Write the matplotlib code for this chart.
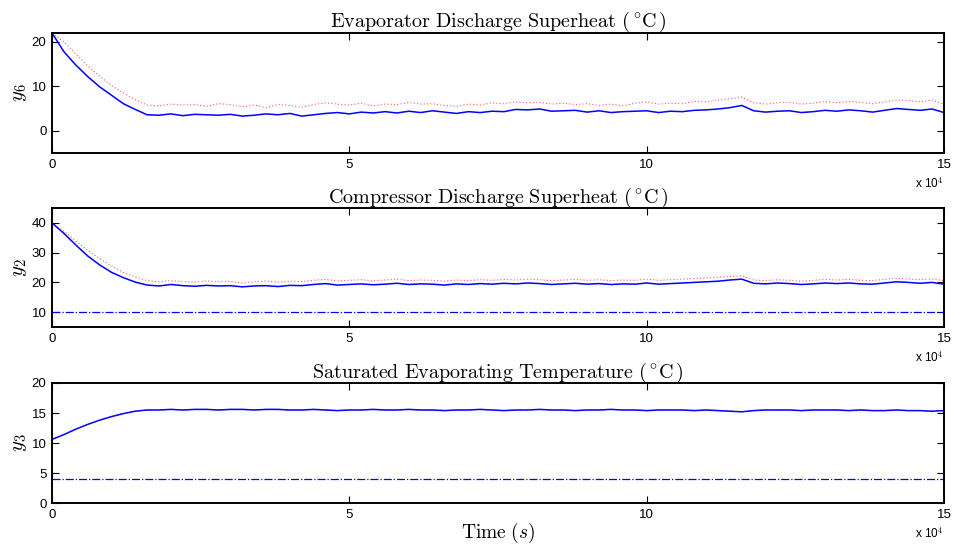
import matplotlib
matplotlib.use('Agg')
import matplotlib.pyplot as plt
import numpy as np

# time grid (s), step 2000 s
t = np.arange(0, 150001, 2000)

# y6 - evaporator discharge superheat
y6_est = [22.0, 17.8, 14.8, 12.2, 9.9, 8.0, 6.1, 4.8, 3.6, 3.5,
          3.8, 3.4, 3.7, 3.6, 3.5, 3.7, 3.3, 3.5, 3.8, 3.6,
          3.9, 3.3, 3.6, 3.9, 4.1, 3.8, 4.2, 4.0, 4.3, 4.0,
          4.4, 4.1, 4.5, 4.2, 3.9, 4.3, 4.1, 4.4, 4.3, 4.8,
          4.7, 4.9, 4.4, 4.5, 4.6, 4.2, 4.5, 4.1, 4.3, 4.4,
          4.5, 4.1, 4.4, 4.3, 4.6, 4.7, 4.9, 5.2, 5.7, 4.5,
          4.2, 4.4, 4.5, 4.1, 4.3, 4.6, 4.4, 4.7, 4.5, 4.2,
          4.6, 5.0, 4.8, 4.6, 4.9, 4.1]
y6_true = [22.0, 20.0, 17.3, 14.6, 12.3, 10.2, 8.5, 7.0, 5.8, 5.6,
           6.0, 5.8, 5.9, 5.5, 6.1, 5.9, 5.4, 5.8, 5.2, 5.9,
           5.7, 5.3, 5.9, 6.3, 6.0, 5.8, 6.2, 5.6, 6.0, 5.9,
           6.4, 6.0, 6.1, 5.7, 5.5, 6.0, 5.8, 6.3, 6.1, 6.5,
           6.3, 6.4, 6.0, 6.2, 5.9, 6.1, 5.7, 6.0, 5.6, 6.2,
           6.5, 6.0, 6.2, 6.1, 6.6, 6.5, 6.9, 7.2, 7.6, 6.3,
           6.0, 6.3, 6.4, 6.0, 6.2, 6.6, 6.3, 6.6, 6.4, 6.1,
           6.5, 6.9, 6.8, 6.5, 6.9, 6.0]

# y2 - compressor discharge superheat
y2_est = [40.0, 36.5, 32.6, 28.9, 25.9, 23.4, 21.6, 20.1, 19.1, 18.8,
          19.3, 18.9, 18.7, 19.0, 18.8, 18.9, 18.5, 18.8, 18.9, 18.6,
          19.0, 18.9, 19.3, 19.6, 19.1, 19.3, 19.5, 19.2, 19.4, 19.7,
          19.3, 19.5, 19.4, 19.1, 19.5, 19.3, 19.6, 19.4, 19.7, 19.5,
          19.8, 19.6, 19.3, 19.5, 19.7, 19.4, 19.6, 19.3, 19.5, 19.4,
          19.8, 19.4, 19.6, 19.8, 20.0, 20.2, 20.4, 20.8, 21.1, 19.7,
          19.5, 19.8, 19.6, 19.3, 19.5, 19.8, 19.6, 19.8, 19.5, 19.4,
          19.8, 20.2, 20.0, 19.7, 20.0, 19.4]
y2_true = [40.0, 37.2, 33.9, 30.8, 28.0, 25.6, 23.4, 21.8, 20.6, 20.2,
           20.6, 20.3, 20.1, 20.5, 20.2, 20.4, 19.8, 20.2, 20.5, 20.0,
           20.4, 20.3, 20.7, 21.0, 20.5, 20.7, 20.9, 20.5, 20.8, 21.1,
           20.6, 20.8, 20.7, 20.4, 20.8, 20.6, 20.9, 20.7, 21.0, 20.8,
           21.1, 20.9, 20.6, 20.8, 21.0, 20.7, 20.9, 20.6, 20.8, 20.7,
           21.1, 20.7, 20.9, 21.1, 21.3, 21.5, 21.7, 22.0, 22.2, 20.8,
           20.6, 20.9, 20.7, 20.4, 20.7, 21.0, 20.8, 21.0, 20.7, 20.6,
           21.0, 21.4, 21.2, 20.9, 21.2, 20.6]

# y3 - saturated evaporating temperature
y3_est = [10.6, 11.4, 12.3, 13.1, 13.8, 14.4, 14.9, 15.3, 15.5, 15.5,
          15.6, 15.5, 15.6, 15.6, 15.5, 15.6, 15.6, 15.5, 15.6, 15.6,
          15.5, 15.5, 15.6, 15.5, 15.4, 15.5, 15.5, 15.6, 15.5, 15.5,
          15.6, 15.5, 15.5, 15.4, 15.5, 15.5, 15.6, 15.5, 15.4, 15.5,
          15.5, 15.6, 15.5, 15.5, 15.4, 15.5, 15.5, 15.6, 15.5, 15.5,
          15.4, 15.5, 15.5, 15.5, 15.4, 15.5, 15.4, 15.3, 15.2, 15.4,
          15.5, 15.5, 15.5, 15.4, 15.5, 15.5, 15.5, 15.4, 15.5, 15.4,
          15.4, 15.5, 15.4, 15.4, 15.3, 15.4]
y3_true = y3_est

# constraint levels
y2_min = 10
y3_min = 4

titles = [r'$\mathrm{Evaporator\ Discharge\ Superheat\ (\,^{\circ}C\,)}$',
          r'$\mathrm{Compressor\ Discharge\ Superheat\ (\,^{\circ}C\,)}$',
          r'$\mathrm{Saturated\ Evaporating\ Temperature\ (\,^{\circ}C\,)}$']
ylabels = [r'$y_6$', r'$y_2$', r'$y_3$']

plt.rcParams['mathtext.fontset'] = 'cm'
plt.rcParams['font.family'] = 'Liberation Sans'

fig = plt.figure(figsize=(9.54, 5.48), dpi=100)
L, W = 0.0545, 0.935
ax1 = fig.add_axes([L, 0.7208, W, 0.219])
ax2 = fig.add_axes([L, 0.4033, W, 0.217])
ax3 = fig.add_axes([L, 0.0821, W, 0.219])
axes = [ax1, ax2, ax3]

dots = (0, (1, 2))
red = (1.0, 0.35, 0.35)
ax1.plot(t, y6_true, color=red, lw=0.8, ls=dots)
ax1.plot(t, y6_est, color='blue', lw=1.1)
ax1.set_ylim(-5, 22)
ax1.set_yticks([0, 10, 20])

ax2.plot(t, y2_true, color=red, lw=0.8, ls=dots)
ax2.plot(t, y2_est, color='blue', lw=1.1)
ax2.axhline(y2_min, color='blue', lw=0.9, ls='-.')
ax2.set_ylim(5, 45)
ax2.set_yticks([10, 20, 30, 40])

ax3.plot(t, y3_true, color=red, lw=0.8, ls=dots)
ax3.plot(t, y3_est, color='blue', lw=1.1)
ax3.axhline(y3_min, color='blue', lw=0.9, ls='-.')
ax3.set_ylim(0, 20)
ax3.set_yticks([0, 5, 10, 15, 20])

for ax, ttl, yl in zip(axes, titles, ylabels):
    ax.set_xlim(0, 150000)
    ax.set_xticks([0, 50000, 100000, 150000])
    ax.set_xticklabels(['0', '5', '10', '15'])
    ax.tick_params(direction='in', top=True, right=True, length=5, width=0.8,
                   labelsize=9.5, pad=4)
    for s in ax.spines.values():
        s.set_linewidth(1.4)
    ax.set_title(ttl, fontsize=14.5, pad=4)
    ax.set_ylabel(yl, fontsize=15, labelpad=2)
    ax.text(1.0, -0.19, r'x 10$^4$', transform=ax.transAxes, ha='right',
            va='top', fontsize=8.5)

ax3.set_xlabel(r'$\mathrm{Time}\ (s)$', fontsize=14, labelpad=0)

fig.savefig('out.png', dpi=100)
